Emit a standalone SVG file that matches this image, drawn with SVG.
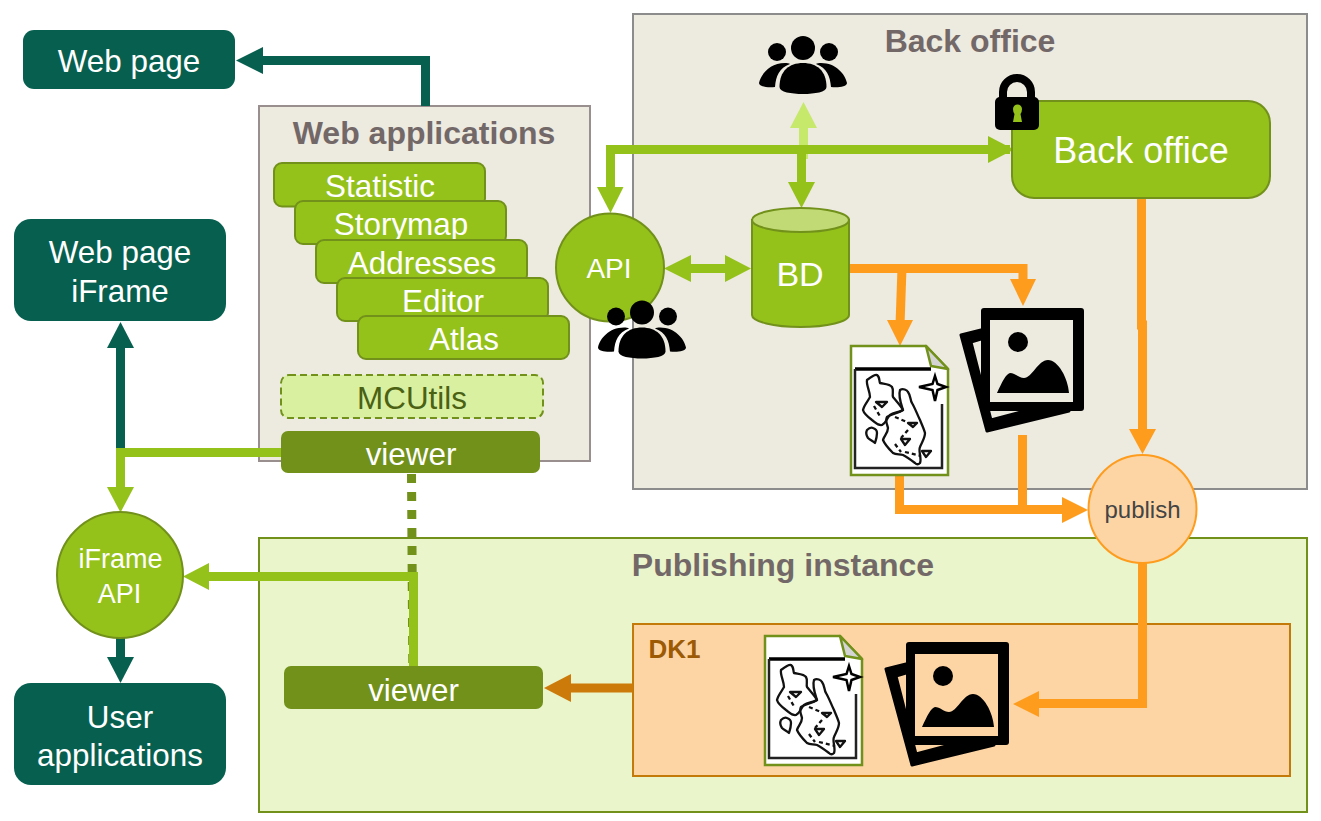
<svg xmlns="http://www.w3.org/2000/svg" width="1321" height="821" viewBox="0 0 1321 821">
<style>
text{font-family:"Liberation Sans",Arial,sans-serif;text-anchor:middle}
.dk{fill:#07604f}
.w{fill:#fff}
.t{font-size:31.400px;fill:#fff}
.app{fill:#95c11b;stroke:#71911a;stroke-width:2}
.vw{fill:#71911a}
.title{font-size:32px;font-weight:bold;fill:#736868}
.ln{fill:none;stroke-width:9}
.g{stroke:#95c11b}
.o{stroke:#fe9c1e}
.dg{stroke:#07604f}
</style>
<defs>
<g id="people">
<circle cx="0" cy="-20" r="12" fill="#000"/>
<circle cx="-26" cy="-16" r="9" fill="#000"/>
<circle cx="26" cy="-16" r="9" fill="#000"/>
<path d="M-23.500 19C-23.500 3 -14 -5 0 -5C14 -5 23.500 3 23.500 19C23.500 24 12 26 0 26C-12 26 -23.500 24 -23.500 19Z" fill="#000"/>
<path d="M-18 -5C-33 -5 -42 6 -44 15C-44 19 -34 20 -28 19C-27 8 -24 0 -13 -4C-14 -5 -16 -5 -18 -5Z" fill="#000"/>
<path d="M18 -5C33 -5 42 6 44 15C44 19 34 20 28 19C27 8 24 0 13 -4C14 -5 16 -5 18 -5Z" fill="#000"/>
</g>
<g id="photos">
<path d="M1 35L21 30V39L11 42L31 120L65 111H109L27 131Z" fill="#000" stroke="#000" stroke-width="3" stroke-linejoin="round"/>
<path fill-rule="evenodd" d="M24 8H121Q124 8 124 11V108Q124 111 121 111H24Q21 111 21 108V11Q21 8 24 8ZM30 20V102H113V20Z" fill="#000"/>
<circle cx="58" cy="42" r="10" fill="#000"/>
<path d="M37 93C42 82 46 74 50 73C55 73 59 78 64 78C72 78 78 60 88 60C98 60 108 78 109 93Z" fill="#000"/>
</g>
<g id="map">
<path d="M0 0H75L97 23V129H0Z" fill="#fff" stroke="#71911a" stroke-width="2.500"/>
<path d="M75 0L97 23L80 20Z" fill="#d4d4d4" stroke="#71911a" stroke-width="2.500" stroke-linejoin="round"/>
<path d="M4 23H80" stroke="#000" stroke-width="3.500"/>
<path d="M4 23V122H91V58" fill="none" stroke="#222" stroke-width="2.500"/>
<g fill="none" stroke="#111" stroke-width="2.300" stroke-linejoin="round">
<path d="M16 34C20 31 24 28 26 29C29 31 28 35 29 37C34 38 39 38 41 41C43 44 41 48 42 51C46 56 50 60 52 64C47 67 43 66 39 69C36 72 35 77 31 79C27 80 24 76 21 74C17 71 13 68 12 64C13 59 17 55 19 51C19 45 15 39 16 34Z"/>
<path d="M49 44C52 42 56 44 57 46C60 50 59 54 61 57C64 62 66 68 69 74C71 79 73 83 74 87C74 92 71 96 69 101C67 105 71 112 69 117C67 119 65 118 64 117C60 114 56 111 52 109C48 108 45 109 42 107C38 103 34 99 32 94C33 90 37 87 37 82C36 78 34 74 36 71C40 68 46 68 52 64C50 58 47 50 49 44Z"/>
<path d="M16 84C18 82 20 81 22 82C25 83 26 85 26 87C26 91 25 94 24 97C22 95 19 94 17 92C15 89 15 86 16 84Z"/>
<path d="M25 56H36L31 61ZM57 77H66L62 81ZM50 93H59L54 99ZM71 105H80L75 111Z"/>
<path d="M23 60L30 72M44 71L56 76M57 84L50 92M44 98L50 106M54 106L70 110" stroke-dasharray="4 3"/>
</g>
<path d="M84 30L86.500 38L95 41L86.500 44L84 55L81.500 44L68 41L81.500 38Z" fill="#fff" stroke="#000" stroke-width="2.500"/>
</g>
</defs>

<g id="back-office-zone"><rect x="633" y="14" width="674" height="475" fill="#edeae0" stroke="#8c8c8c" stroke-width="2"/><text x="970" y="52" class="title">Back office</text></g>
<g id="web-applications"><rect x="259" y="106" width="331" height="355" fill="#edeae0" stroke="#9a8f8f" stroke-width="2"/><text x="424" y="144" class="title">Web applications</text></g>
<g id="publishing-instance"><rect x="259" y="538" width="1048" height="274" fill="#eaf5cb" stroke="#71911a" stroke-width="2"/><text x="783" y="576" class="title">Publishing instance</text></g>
<g id="dk1"><rect x="633" y="624" width="657" height="152" fill="#fdd5a5" stroke="#c47a08" stroke-width="2"/><text x="674.500" y="658" font-size="26" font-weight="bold" fill="#9c5a05">DK1</text></g>

<g id="connectors">
<path d="M425.500 106V60.500H258" class="ln dg"/><path d="M236 60.500L263 47V74Z" fill="#07604f"/>
<path d="M120.500 450V345" class="ln dg"/><path d="M120.500 322L134 348H107Z" fill="#07604f"/>
<path d="M120.500 636V660" class="ln dg"/><path d="M120.500 683L107 657H134Z" fill="#07604f"/>
<path d="M282 452.500H120.500V490" class="ln g"/><path d="M120.500 512.500L107 487H134Z" fill="#95c11b"/>
<path d="M411.500 474L412.800 665" fill="none" stroke="#71911a" stroke-width="9" stroke-dasharray="9 9"/>
<path d="M413.500 666V576.500H205" class="ln g"/><path d="M183 576.500L209 563V590Z" fill="#95c11b"/>
<path d="M633 688H566" class="ln" stroke="#cc7a0a"/><path d="M544 688L571 674V702Z" fill="#cc7a0a"/>
<path d="M803.500 159V120" class="ln" stroke="#c6e86b"/><path d="M803.500 102L790 128H817Z" fill="#c6e86b"/>
<path d="M1010 149.500H610.500V190" class="ln g"/><path d="M610.500 213L597 187H623.500Z" fill="#95c11b"/><path d="M1014 149.500L988 136V163Z" fill="#95c11b"/>
<path d="M801.500 150V185" class="ln g"/><path d="M801.500 208L788 182H815Z" fill="#95c11b"/>
<path d="M680 268.500H735" class="ln g"/><path d="M664 268.500L691 255V282Z" fill="#95c11b"/><path d="M751 268.500L725 255V282Z" fill="#95c11b"/>
<path d="M849 268.500H1023V285" class="ln o"/><path d="M1023 306L1010 279H1036Z" fill="#fe9c1e"/>
<path d="M902 268L900 325" class="ln o"/><path d="M900 346L887 320H913Z" fill="#fe9c1e"/>
<path d="M899.500 475V509.500H1065" class="ln o"/><path d="M1088 510L1062 497V523Z" fill="#fe9c1e"/>
<path d="M1022.500 435V514" class="ln o"/>
<path d="M1141.500 198V325H1142.500V435" class="ln o"/><path d="M1142.500 454L1129 429H1156Z" fill="#fe9c1e"/>
<path d="M1142.500 560V703.500H1036" class="ln o"/><path d="M1013 704L1039 691V717Z" fill="#fe9c1e"/>
</g>

<g id="web-page"><rect x="23" y="30" width="212" height="59" rx="11" class="dk"/><text x="129" y="72" class="t">Web page</text></g>
<g id="web-page-iframe"><rect x="14" y="219" width="212" height="102" rx="17" class="dk"/><text x="120" y="263" class="t">Web page</text><text x="120" y="301.500" class="t">iFrame</text></g>
<g id="user-applications"><rect x="14" y="683" width="212" height="102" rx="17" class="dk"/><text x="120" y="727.500" class="t">User</text><text x="120" y="766" class="t">applications</text></g>

<g id="app-statistic"><rect x="274" y="163" width="211" height="43.500" rx="8" class="app"/><text x="380" y="196.500" class="t">Statistic</text></g>
<g id="app-storymap"><rect x="295" y="201" width="211" height="43" rx="8" class="app"/><text x="401" y="234.500" class="t">Storymap</text></g>
<g id="app-addresses"><rect x="316" y="240" width="211" height="43" rx="8" class="app"/><text x="422" y="273.500" class="t">Addresses</text></g>
<g id="app-editor"><rect x="337" y="278" width="211" height="43" rx="8" class="app"/><text x="443" y="311.500" class="t">Editor</text></g>
<g id="app-atlas"><rect x="358" y="316" width="211" height="43" rx="8" class="app"/><text x="464" y="350" class="t">Atlas</text></g>
<g id="mcutils"><rect x="281" y="375" width="262" height="43" rx="8" fill="#d9f0a0" stroke="#71911a" stroke-width="2" stroke-dasharray="7 4"/><text x="412" y="409" font-size="31.400" fill="#4b6113">MCUtils</text></g>
<g id="viewer-top"><rect x="281" y="431" width="259" height="42" rx="7" class="vw"/><text x="411" y="464.500" class="t">viewer</text></g>
<g id="viewer-bottom"><rect x="284" y="666" width="259" height="43" rx="7" class="vw"/><text x="413.500" y="700.500" class="t">viewer</text></g>

<g id="iframe-api"><circle cx="120" cy="575" r="63" fill="#95c11b" stroke="#71911a" stroke-width="2"/><text x="120.500" y="568" font-size="27" class="w">iFrame</text><text x="119.500" y="603" font-size="27" class="w">API</text></g>
<g id="api"><circle cx="610" cy="267.500" r="54" fill="#95c11b" stroke="#71911a" stroke-width="2"/><text x="609" y="278" font-size="28" class="w">API</text></g>
<use id="users-api" href="#people" x="642" y="332.500"/>
<use id="users-bd" href="#people" x="803" y="68"/>
<g id="bd"><path d="M752 220V315A48.500 12 0 0 0 849 315V220Z" fill="#95c11b" stroke="#71911a" stroke-width="2"/><ellipse cx="800.500" cy="220" rx="48.500" ry="12" fill="#c1da75" stroke="#71911a" stroke-width="2"/><text x="800" y="286" font-size="34" class="w">BD</text></g>
<g id="back-office"><rect x="1012" y="101" width="258" height="97" rx="22" fill="#95c11b" stroke="#71911a" stroke-width="2"/><text x="1141" y="163" font-size="36" class="w">Back office</text></g>
<g id="lock"><path d="M1003 100V92A14 14 0 0 1 1031 92V100" fill="none" stroke="#000" stroke-width="8"/><rect x="995" y="97" width="44" height="33" rx="5" fill="#000"/><path d="M1013 109A4.300 4.300 0 0 1 1022 109Q1022 112 1020.500 114L1022 122H1013L1014.500 114Q1013 112 1013 109Z" fill="#95c11b"/></g>
<g id="publish"><circle cx="1142.500" cy="509" r="54" fill="#fdd5a5" stroke="#fe9c1e" stroke-width="2"/><text x="1142.500" y="518" font-size="24" fill="#444">publish</text></g>
<g id="map-back"><use href="#map" x="851" y="346"/></g>
<g id="photos-back"><use href="#photos" x="960" y="300"/></g>
<g id="map-dk1"><use href="#map" x="765" y="636"/></g>
<g id="photos-dk1"><use href="#photos" x="885" y="634"/></g>
</svg>
